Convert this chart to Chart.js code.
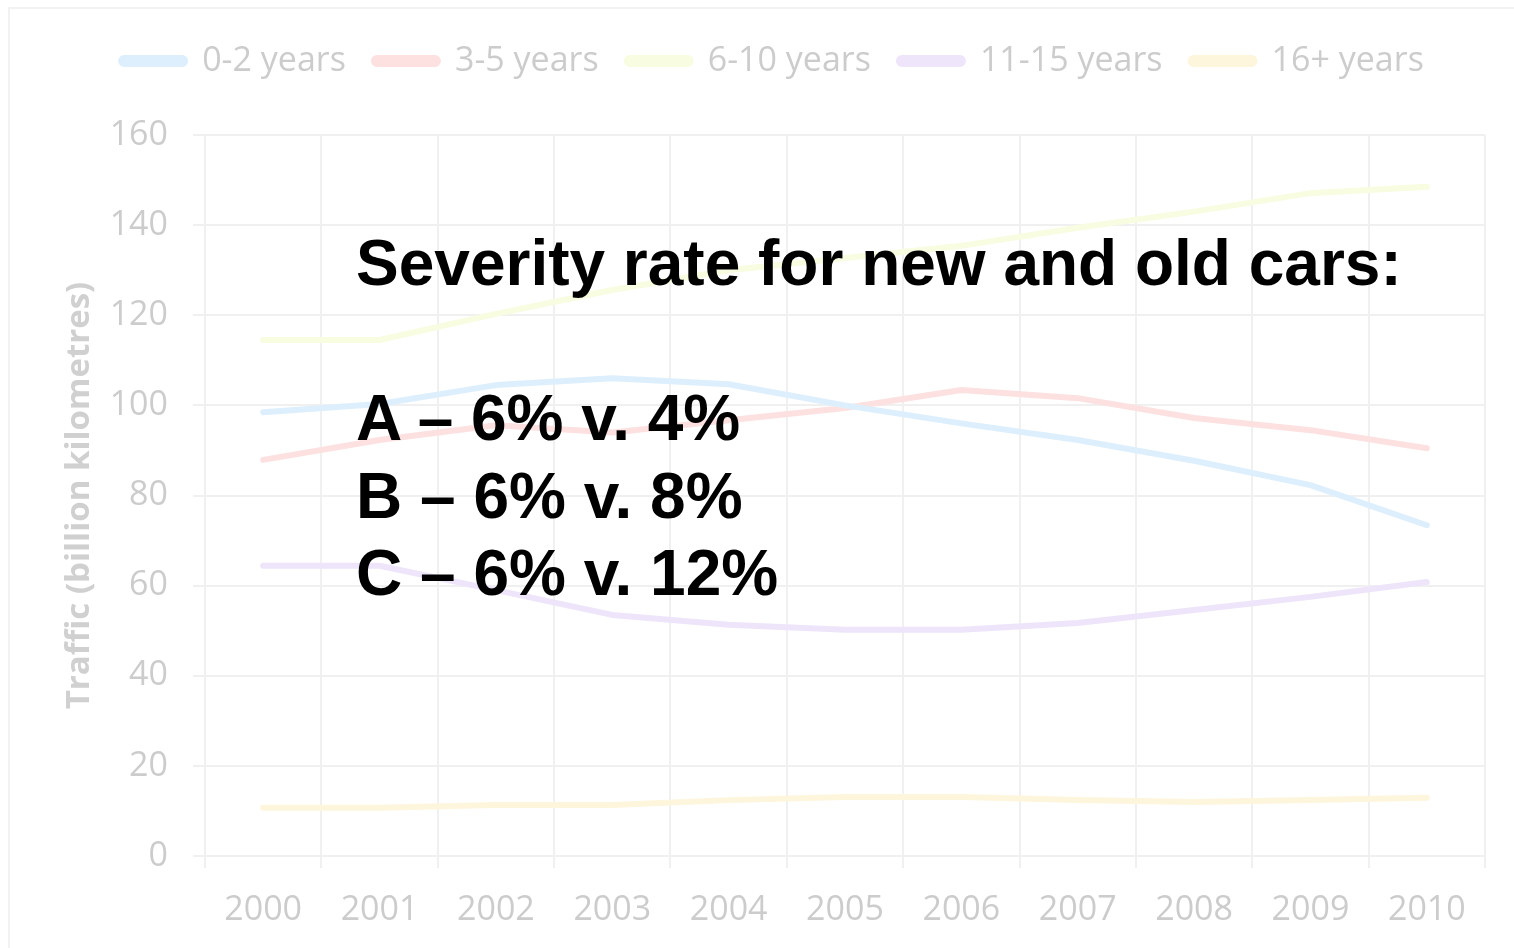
<!DOCTYPE html>
<html>
<head>
<meta charset="utf-8">
<script src="https://cdn.jsdelivr.net/npm/chart.js@4"></script>
<style>
  html, body { margin: 0; padding: 0; background: #fff; }
  #wrap { position: relative; width: 1514px; height: 948px; overflow: hidden; }
  #frame { position: absolute; left: 8px; top: 7px; width: 1530px; height: 960px; border: 2px solid #f2f2f2; box-sizing: border-box; }
  #mycanvas { position: absolute; left: 0; top: 0; }
  #overlay {
    position: absolute; left: 356px; top: 225px;
    font-family: "Liberation Sans", Arial, sans-serif; font-weight: bold;
    font-size: 64px; line-height: 77.5px; color: #000; white-space: pre;
  }
</style>
</head>
<body>
<div id="wrap">
  <div id="frame"></div>
  <canvas id="mycanvas" width="1514" height="948"></canvas>
  <div id="overlay">Severity rate for new and old cars:

A – 6% v. 4%
B – 6% v. 8%
C – 6% v. 12%</div>
</div>
<script>
var years = ["2000", "2001", "2002", "2003", "2004", "2005", "2006", "2007", "2008", "2009", "2010"];
var seriesNames = ["0-2 years", "3-5 years", "6-10 years", "11-15 years", "16+ years"];
var age0to2 = [98.5, 100.3, 104.5, 106, 104.7, 100, 96, 92.3, 87.7, 82.3, 73.4];
var age3to5 = [87.9, 92.3, 95.6, 94, 96.7, 99.4, 103.4, 101.6, 97.2, 94.5, 90.5];
var age6to10 = [114.5, 114.5, 120.3, 125.6, 130, 132.7, 135.4, 139.4, 143, 147.1, 148.5];
var age11to15 = [64.4, 64.4, 59, 53.5, 51.3, 50.2, 50.2, 51.7, 54.6, 57.5, 60.8];
var age16plus = [10.7, 10.7, 11.3, 11.3, 12.4, 13.1, 13.1, 12.4, 12, 12.4, 12.9];
var yTicks = [0, 20, 40, 60, 80, 100, 120, 140, 160];

var colours = ["#ddeffd", "#fde1e1", "#f8fce0", "#eee5fb", "#fdf5dc"];
var allData = [age0to2, age3to5, age6to10, age11to15, age16plus];

var datasets = [];
for (var i in allData) {
  datasets.push({
    label: seriesNames[i],
    data: allData[i],
    borderColor: colours[i],
    backgroundColor: colours[i],
    borderWidth: 6,
    borderCapStyle: "round",
    borderJoinStyle: "round",
    pointRadius: 0,
    tension: 0,
    fill: false
  });
}

var tickFont = { family: "'Open Sans', Lato, sans-serif", size: 34 };

// push the plot area down below the legend
var legendGap = {
  id: "legendGap",
  beforeInit: function(chart) {
    var fit = chart.legend.fit;
    chart.legend.fit = function() {
      fit.bind(chart.legend)();
      this.height += 47;
    };
  }
};

var ctx = document.getElementById("mycanvas");
var LineGraph = new Chart(ctx, {
  type: "line",
  data: { labels: years, datasets: datasets },
  plugins: [legendGap],
  options: {
    responsive: false,
    animation: false,
    layout: { padding: { left: 60, right: 29, top: 16, bottom: 14 } },
    plugins: {
      tooltip: { enabled: false },
      legend: {
        position: "top",
        labels: {
          color: "#cccccc",
          font: tickFont,
          boxWidth: 64,
          boxHeight: 6,
          useBorderRadius: true,
          borderRadius: 3,
          padding: 28
        }
      }
    },
    scales: {
      x: {
        offset: true,
        afterFit: function(axis) { axis.height = 78; },
        grid: { offset: true, color: "#f0f0f0", lineWidth: 2, tickLength: 12 },
        border: { color: "#f0f0f0", width: 2 },
        ticks: { color: "#cccccc", font: tickFont, padding: 22, maxRotation: 0 }
      },
      y: {
        min: 0,
        max: 160,
        afterBuildTicks: function(axis) {
          axis.ticks = yTicks.map(function(v) { return { value: v }; });
        },
        afterFit: function(axis) { axis.width = 145; },
        grid: { color: "#f0f0f0", lineWidth: 2, tickLength: 12 },
        border: { color: "#f0f0f0", width: 2 },
        ticks: { color: "#cccccc", font: tickFont, padding: 25 },
        title: {
          display: true,
          text: "Traffic (billion kilometres)",
          color: "#d0d0d0",
          font: { family: "'Open Sans', Lato, sans-serif", size: 33, weight: "bold" },
          padding: 0
        }
      }
    }
  }
});
</script>
</body>
</html>
